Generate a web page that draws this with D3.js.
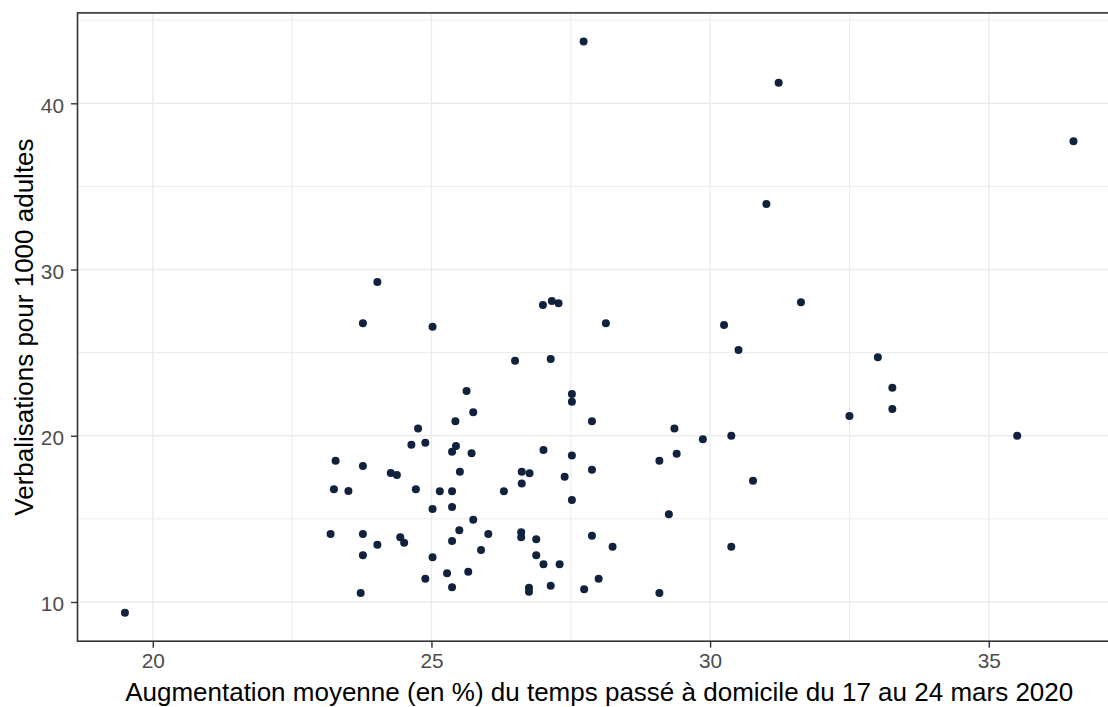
<!DOCTYPE html>
<html>
<head>
<meta charset="utf-8">
<script src="https://cdn.jsdelivr.net/npm/d3@7"></script>
<style>
  body { margin: 0; background: #fff; }
  svg { display: block; font-family: "Liberation Sans", Arial, sans-serif; }
</style>
</head>
<body>
<svg id="chart" width="1108" height="707"></svg>
<script>
// Mean increase (%) of time spent at home, 17–24 March 2020, per département
const homeTimeIncrease = [
  19.50, 23.19, 23.28, 23.25, 23.51, 23.77, 23.77, 23.77, 23.77, 23.73,
  24.03, 24.03, 24.27, 24.38, 24.44, 24.51, 24.64, 24.72, 24.76, 24.89,
  24.89, 25.02, 25.02, 25.02, 25.15, 25.28, 25.44, 25.37, 25.37, 25.37,
  25.37, 25.37, 25.43, 25.51, 25.50, 25.63, 25.66, 25.72, 25.75, 25.75,
  25.89, 26.02, 26.30, 26.50, 26.62, 26.76, 26.62, 26.61, 26.61, 26.75,
  26.75, 26.88, 26.88, 27.01, 27.01, 27.00, 27.16, 27.28, 27.14, 27.14,
  27.30, 27.39, 27.52, 27.52, 27.52, 27.52, 27.73, 27.74, 27.88, 27.88,
  27.88, 28.00, 28.13, 28.25, 29.09, 29.09, 29.26, 29.36, 29.40, 29.87,
  30.25, 30.38, 30.38, 30.51, 30.77, 31.01, 31.23, 31.63, 32.50, 33.01,
  33.27, 33.27, 35.51, 36.52
];

// Fines issued per 1000 adults, same order
const finesPer1000 = [
   9.36, 14.09, 18.50, 16.78, 16.68, 26.77, 18.18, 14.09, 12.81, 10.54,
  29.25, 13.45, 17.76, 17.64, 13.89, 13.57, 19.46, 16.78, 20.43, 19.58,
  11.40, 26.56, 15.59, 12.69, 16.66, 11.73, 19.38, 19.04, 16.66, 15.72,
  13.67, 10.88, 20.87, 17.84, 14.31, 22.69, 11.82, 18.95, 21.41, 14.95,
  13.13, 14.09, 16.66, 24.52, 17.84, 17.74, 17.13, 14.19, 13.89, 10.86,
  10.62, 13.77, 12.81, 19.14, 12.27, 27.87, 28.11, 27.97, 24.62, 10.98,
  12.27, 17.54, 22.51, 22.05, 18.82, 16.14, 43.72, 10.76, 20.87, 17.96,
  13.99, 11.40, 26.77, 13.33, 18.50, 10.54, 15.28, 20.43, 18.92, 19.79,
  26.66, 20.00, 13.33, 25.16, 17.30, 33.94, 41.23, 28.03, 21.19, 24.72,
  22.89, 21.61, 20.00, 37.71
];

const xMajorTicks = [20, 25, 30, 35];
const xMinorTicks = [22.5, 27.5, 32.5];
const yMajorTicks = [10, 20, 30, 40];
const yMinorTicks = [15, 25, 35, 45];

const xTitle = "Augmentation moyenne (en %) du temps passé à domicile du 17 au 24 mars 2020";
const yTitle = "Verbalisations pour 1000 adultes";

const svg = d3.select("#chart");

// Panel geometry (the panel runs past the right edge of the canvas)
const panel = { left: 77.5, top: 12.9, width: 1043.4, height: 628.3 };

// Domains padded by 5% of the data range on each side
function padded(values) {
  const [lo, hi] = d3.extent(values);
  const pad = (hi - lo) * 0.05;
  return [lo - pad, hi + pad];
}

const x = d3.scaleLinear()
  .domain(padded(homeTimeIncrease))
  .range([panel.left, panel.left + panel.width]);

const y = d3.scaleLinear()
  .domain(padded(finesPer1000))
  .range([panel.top + panel.height, panel.top]);

const gridColor = "#ebebeb";
const inkColor = "#333333";

// Panel background
svg.append("rect")
  .attr("x", panel.left).attr("y", panel.top)
  .attr("width", panel.width).attr("height", panel.height)
  .attr("fill", "#fff");

const grid = svg.append("g");

// Minor grid
grid.selectAll(".xminor").data(xMinorTicks).join("line")
  .attr("x1", d => x(d)).attr("x2", d => x(d))
  .attr("y1", panel.top).attr("y2", panel.top + panel.height)
  .attr("stroke", gridColor).attr("stroke-width", 1);
grid.selectAll(".yminor").data(yMinorTicks.filter(v => y(v) > panel.top)).join("line")
  .attr("y1", d => y(d)).attr("y2", d => y(d))
  .attr("x1", panel.left).attr("x2", panel.left + panel.width)
  .attr("stroke", gridColor).attr("stroke-width", 1);

// Major grid
grid.selectAll(".xmajor").data(xMajorTicks).join("line")
  .attr("x1", d => x(d)).attr("x2", d => x(d))
  .attr("y1", panel.top).attr("y2", panel.top + panel.height)
  .attr("stroke", gridColor).attr("stroke-width", 1.4);
grid.selectAll(".ymajor").data(yMajorTicks).join("line")
  .attr("y1", d => y(d)).attr("y2", d => y(d))
  .attr("x1", panel.left).attr("x2", panel.left + panel.width)
  .attr("stroke", gridColor).attr("stroke-width", 1.4);

// Points
svg.append("g")
  .selectAll("circle")
  .data(d3.range(homeTimeIncrease.length))
  .join("circle")
  .attr("cx", i => x(homeTimeIncrease[i]))
  .attr("cy", i => y(finesPer1000[i]))
  .attr("r", 4)
  .attr("fill", "#11223f");

// Panel border
svg.append("rect")
  .attr("x", panel.left).attr("y", panel.top)
  .attr("width", panel.width).attr("height", panel.height)
  .attr("fill", "none")
  .attr("stroke", inkColor).attr("stroke-width", 1.6);

// Axes
const xAxis = d3.axisBottom(x).tickValues(xMajorTicks).tickSize(6.5).tickPadding(6).tickSizeOuter(0);
const yAxis = d3.axisLeft(y).tickValues(yMajorTicks).tickSize(6.5).tickPadding(7).tickSizeOuter(0);

const gx = svg.append("g")
  .attr("transform", `translate(0,${panel.top + panel.height})`)
  .call(xAxis);
const gy = svg.append("g")
  .attr("transform", `translate(${panel.left},0)`)
  .call(yAxis);

[gx, gy].forEach(g => {
  g.select(".domain").remove();
  g.selectAll(".tick line").attr("stroke", inkColor).attr("stroke-width", 1.4);
  g.selectAll(".tick text")
    .attr("fill", "#4d4d4d")
    .style("font-family", '"Liberation Sans", Arial, sans-serif')
    .style("font-size", "20.8px");
});
gx.selectAll(".tick text").attr("dy", "0.71em");
gy.selectAll(".tick text").attr("dy", "0.42em");

// Axis titles
svg.append("text")
  .attr("x", panel.left + panel.width / 2)
  .attr("y", 701)
  .attr("text-anchor", "middle")
  .attr("fill", "#000")
  .style("font-size", "26px")
  .text(xTitle);

svg.append("text")
  .attr("transform", `translate(33,${panel.top + panel.height / 2}) rotate(-90)`)
  .attr("text-anchor", "middle")
  .attr("fill", "#000")
  .style("font-size", "26px")
  .text(yTitle);
</script>
</body>
</html>
